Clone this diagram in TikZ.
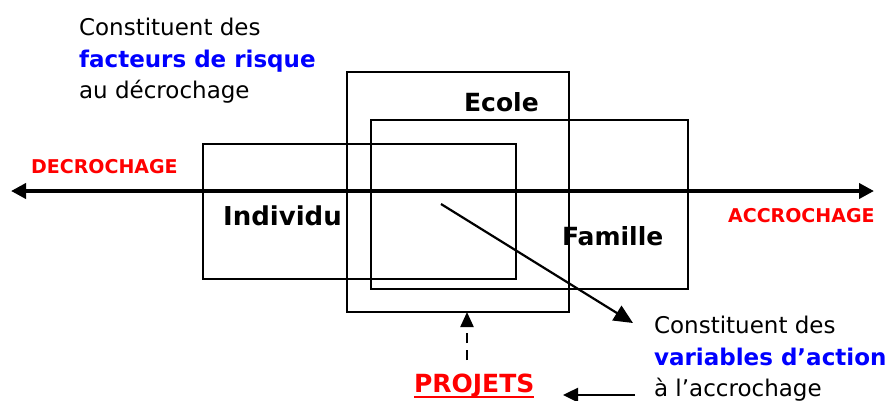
\documentclass[tikz,border=0pt]{standalone}
\usepackage{fontspec}
\usepackage{xcolor}
\setmainfont{DejaVu Sans}
\usetikzlibrary{arrows.meta}
\usetikzlibrary{positioning}

\newcommand\souligne[1]{\setbox0\hbox{#1}\rlap{\rule[-6.2pt]{\wd0}{2.5pt}}\box0}

\begin{document}
\begin{tikzpicture}[
		x=1pt, y=-1pt,
		line width=2.2pt,
		box/.style={draw, line width=2.2pt, inner sep=0pt, anchor=north west},
		label/.style={anchor=base west, inner sep=0pt, font=\fontsize{25}{30}\selectfont\bfseries},
		pole/.style={anchor=base west, inner sep=0pt, text=red, font=\fontsize{19}{23}\selectfont\bfseries},
		note/.style={anchor=north west, inner sep=0pt, align=left, font=\fontsize{23}{31.5}\selectfont},
		axis/.style={line width=4pt, {Triangle[length=15pt,width=15pt]}-{Triangle[length=15pt,width=15pt]}},
		arrow/.style={line width=2.2pt, -{Triangle[length=19pt,width=17pt]}},
	]
	\useasboundingbox (0,0) rectangle (892,400);

	\node (individu) [box, minimum width=313pt, minimum height=135pt] at (202,143) {};
	\node (ecole) [box, minimum width=222pt, minimum height=240pt] at (346,71) {};
	\node (famille) [box, minimum width=317pt, minimum height=169pt] at (370,119) {};

	\node (lind) [label, font=\fontsize{26}{30}\selectfont\bfseries] at (222,225) {Individu};
	\node (lecole) [label] at (463,111) {Ecole};
	\node (lfam) [label] at (561,245) {Famille};

	\coordinate (decro) at (11,191);
	\coordinate (accro) at (874,191);
	\draw[axis] (decro) -- (accro);
	\node (ldecro) [pole] at (30,173) {DECROCHAGE};
	\node (laccro) [pole] at (727,222) {ACCROCHAGE};

	\node (risque) [note] at (78,17) {Constituent des\\\textcolor{blue}{\textbf{facteurs de risque}}\\au décrochage};
	\node (action) [note] at (653,315) {Constituent des\\\textcolor{blue}{\textbf{variables d’action}}\\à l’accrochage};
	\node (projets) [anchor=base west, inner sep=0pt, text=red, font=\fontsize{25}{30}\selectfont\bfseries] at (413,392) {\souligne{PROJETS}};

	\coordinate (centre) at (441,204);
	\coordinate (vers) at (633,323);
	\draw[arrow] (centre) -- (vers);

	\coordinate (pbas) at (467,360);
	\coordinate (phaut) at (467,312);
	\draw[arrow, dash pattern=on 10pt off 7pt, {-Triangle[length=15pt,width=13pt]}] (pbas) -- (phaut);

	\coordinate (adepart) at (635,395);
	\coordinate (afin) at (563,395);
	\draw[arrow, line width=2.5pt, {-Triangle[length=15pt,width=14pt]}] (adepart) -- (afin);
\end{tikzpicture}
\end{document}
